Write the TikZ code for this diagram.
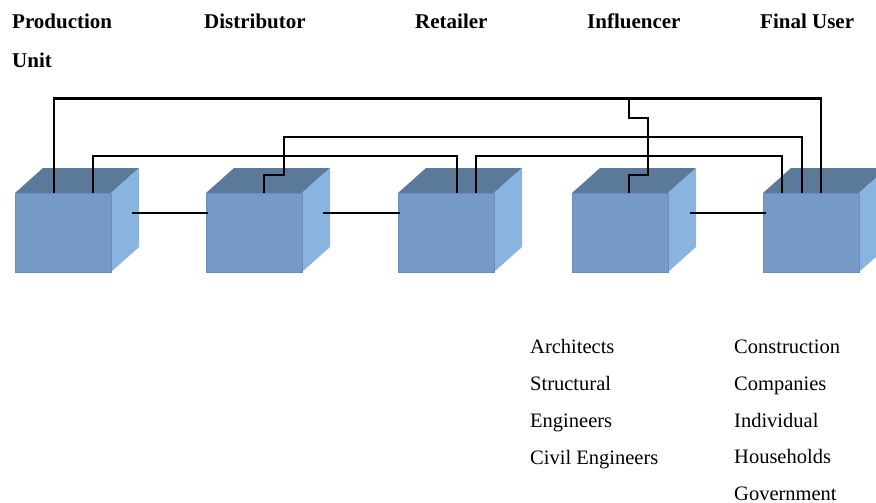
\documentclass[tikz,border=0pt]{standalone}
\usepackage{fontspec}
\setmainfont{Liberation Serif}
\usetikzlibrary{calc}
\definecolor{cubefront}{HTML}{749AC5}
\definecolor{cubetop}{HTML}{5B7A99}
\definecolor{cuberight}{HTML}{8AB4E0}
\definecolor{cubeedge}{HTML}{6A8DB9}
\tikzset{
  front/.style={draw=cubeedge, line width=0.6pt, fill=cubefront, minimum width=96pt, minimum height=79pt, inner sep=0pt, anchor=north west},
  head/.style={font=\fontsize{21}{25}\selectfont\bfseries, inner sep=0pt, anchor=base west},
  item/.style={font=\fontsize{20.5}{25}\selectfont, inner sep=0pt, anchor=base west},
  link/.style={line width=2.6pt, black, line join=miter, line cap=butt}
}
\begin{document}
\begin{tikzpicture}[x=1pt,y=-1pt]
\useasboundingbox (0,0) rectangle (876,503);
% cubes
\foreach \n/\x in {c1/15,c2/206,c3/398,c4/572,c5/763}{
  \fill[cubetop] (\x,193) -- (\x+28,168) -- (\x+124,168) -- (\x+96,193) -- cycle;
  \fill[cuberight] (\x+96,193) -- (\x+124,168) -- (\x+124,247) -- (\x+96,272) -- cycle;
  \node[front] (\n) at (\x,193) {};
}
% headers
\node[head] (h1) at (12,29) {Production};
\node[head] (h1b) at (12,67) {Unit};
\node[head] (h2) at (204,29) {Distributor};
\node[head] (h3) at (415,29) {Retailer};
\node[head] (h4) at (587,29) {Influencer};
\node[head] (h5) at (760,29) {Final User};
% lists
\node[item] (a1) at (530,353) {Architects};
\node[item] (a2) at (530,390) {Structural};
\node[item] (a3) at (530,427) {Engineers};
\node[item] (a4) at (530,464) {Civil Engineers};
\node[item] (b1) at (734,353) {Construction};
\node[item] (b2) at (734,390) {Companies};
\node[item] (b3) at (734,427) {Individual};
\node[item] (b4) at (734,463) {Households};
\node[item] (b5) at (734,500) {Government};
% horizontal links
\draw[link] ($(c1.north east)+(20,20)$) -- ($(c2.north west)+(2,20)$);
\draw[link] ($(c2.north east)+(20,20)$) -- ($(c3.north west)+(2,20)$);
\draw[link] ($(c4.north east)+(21,20)$) -- ($(c5.north west)+(3,20)$);
% top links
\draw[link] ($(c1.north west)+(39,0)$) -- ++(0,-94.5) -| ($(c5.north west)+(58,0)$);
\draw[link] ($(c4.north west)+(57,0)$) -- ++(0,-18) -- ++(19,0) -- ++(0,-57) -- ++(-19,0) -- ++(0,-19.5);
\draw[link] ($(c2.north west)+(58,0)$) -- ++(0,-18) -- ++(20,0) -- ++(0,-38) -| ($(c5.north west)+(39,0)$);
\draw[link] ($(c1.north west)+(78,0)$) -- ++(0,-37) -| ($(c3.north west)+(59,0)$);
\draw[link] ($(c3.north west)+(78,0)$) -- ++(0,-37) -| ($(c5.north west)+(19,0)$);
\end{tikzpicture}
\end{document}
